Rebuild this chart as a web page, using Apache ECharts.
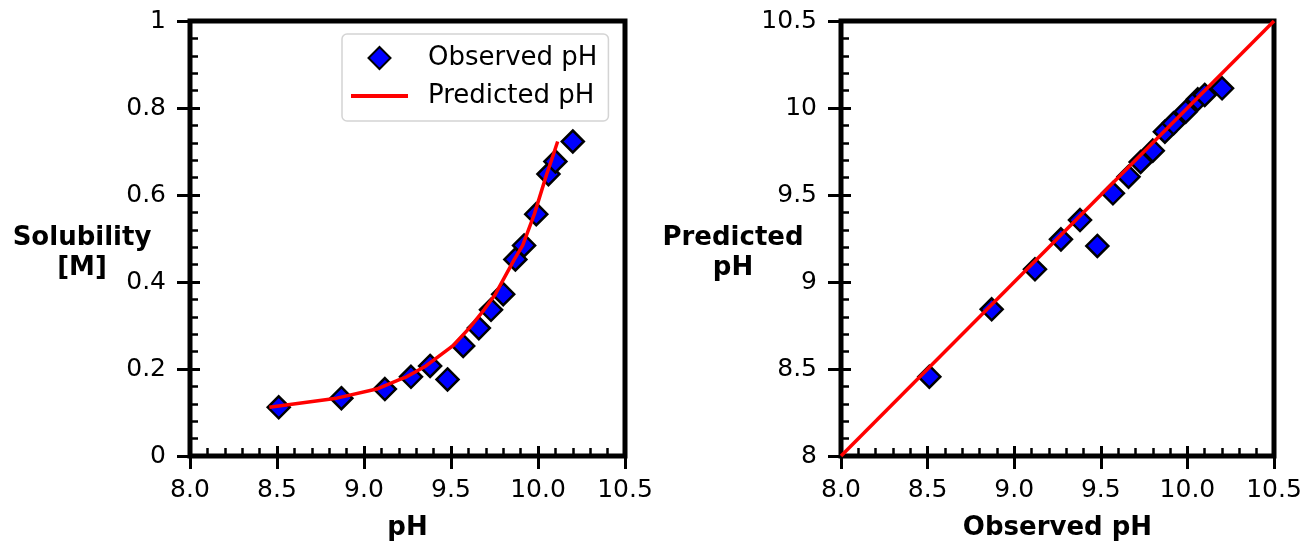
<!DOCTYPE html>
<html>
<head>
<meta charset="utf-8">
<title>Solubility vs pH</title>
<script src="https://cdn.jsdelivr.net/npm/echarts@6/dist/echarts.min.js"></script>
<style>
  html,body{margin:0;padding:0;background:#fff;}
  #main{width:1306px;height:541px;}
</style>
</head>
<body>
<div id="main"></div>
<script>
//观测值 / 预测值 / 溶解度
var obsPH = [8.51, 8.87, 9.12, 9.27, 9.38, 9.48, 9.57, 9.66, 9.73, 9.80, 9.87, 9.92, 9.99, 10.06, 10.10, 10.20];
var predPH = [8.456, 8.843, 9.073, 9.245, 9.356, 9.207, 9.51, 9.605, 9.69, 9.755, 9.864, 9.912, 9.979, 10.05, 10.075, 10.113];
var solubility = [0.112, 0.133, 0.154, 0.182, 0.207, 0.176, 0.253, 0.294, 0.336, 0.372, 0.452, 0.484, 0.556, 0.648, 0.677, 0.723];
var identityLine = [8, 10.5];

var font = 'DejaVu Sans';

//左图散点
var leftScatter = [];
for (var i = 0; i < obsPH.length; i++) {
	leftScatter.push([obsPH[i], solubility[i]]);
}
//左图曲线 (按溶解度排序)
var leftLine = [];
for (var i = 0; i < predPH.length; i++) {
	leftLine.push([predPH[i], solubility[i]]);
}
leftLine.sort(function(a, b){ return a[1] - b[1]; });
//右图散点
var rightScatter = [];
for (var i = 0; i < obsPH.length; i++) {
	rightScatter.push([obsPH[i], predPH[i]]);
}
var rightLine = [[identityLine[0], identityLine[0]], [identityLine[1], identityLine[1]]];

/**
 * 坐标轴: 外侧主刻度+标签 / 内侧主刻度+次刻度
 */
function outerAxis(grid, min, max, interval, fmt, name, isX) {
	var ax = {
		type: 'value', gridIndex: grid, min: min, max: max, interval: interval,
		position: isX ? 'bottom' : 'left',
		splitLine: {show: false},
		axisLine: {show: false},
		axisTick: {show: true, inside: false, length: 13, lineStyle: {color: '#000', width: 3}},
		axisLabel: {show: true, margin: isX ? 22 : 24, fontSize: 25, fontFamily: font, color: '#000', formatter: fmt},
		name: name,
		nameLocation: 'middle',
		nameGap: isX ? 72 : 108,
		nameMoveOverlap: false,
		nameTextStyle: {fontSize: 26, fontFamily: font, fontWeight: 'bold', color: '#000', align: 'center', verticalAlign: 'middle', lineHeight: 30}
	};
	if (!isX) {
		ax.nameRotate = 0;
	}
	return ax;
}
function innerAxis(grid, min, max, interval, isX) {
	return {
		type: 'value', gridIndex: grid, min: min, max: max, interval: interval,
		position: isX ? 'bottom' : 'left',
		splitLine: {show: false},
		axisLine: {show: false},
		axisLabel: {show: false},
		axisTick: {show: true, inside: true, length: 10, lineStyle: {color: '#000', width: 3}},
		minorTick: {show: true, splitNumber: 5, length: 8, lineStyle: {color: '#000', width: 2.5}}
	};
}
function fmt1(v){ return v.toFixed(1); }

var myChart = echarts.init(document.getElementById('main'));
var option = {
	animation: false,
	backgroundColor: '#fff',
	grid: [
		{left: 190, top: 21, width: 435, height: 435, outerBoundsMode: 'none', containLabel: false, show: true, borderColor: '#000', borderWidth: 5, backgroundColor: 'transparent'},
		{left: 841, top: 21, width: 433, height: 435, outerBoundsMode: 'none', containLabel: false, show: true, borderColor: '#000', borderWidth: 5, backgroundColor: 'transparent'}
	],
	legend: {
		left: 342, top: 34,
		orient: 'vertical',
		data: [
			{name: 'Observed pH', icon: 'path://M11,0L22,11L11,22L0,11Z'},
			{name: 'Predicted pH', icon: 'path://M0,0L57,0L57,4L0,4Z'}
		],
		symbolKeepAspect: true,
		itemWidth: 57, itemHeight: 22, itemGap: 12,
		padding: [11, 11, 12, 9],
		borderColor: '#d4d4d4', borderWidth: 1.5, borderRadius: 5,
		backgroundColor: '#fff',
		textStyle: {fontSize: 26, fontFamily: font, color: '#000', padding: [0, 0, 0, 15]}
	},
	xAxis: [
		outerAxis(0, 8, 10.5, 0.5, fmt1, 'pH', true),
		innerAxis(0, 8, 10.5, 0.5, true),
		outerAxis(1, 8, 10.5, 0.5, fmt1, 'Observed pH', true),
		innerAxis(1, 8, 10.5, 0.5, true)
	],
	yAxis: [
		outerAxis(0, 0, 1, 0.2, null, '\nSolubility\n[M]', false),
		innerAxis(0, 0, 1, 0.2, false),
		outerAxis(1, 8, 10.5, 0.5, null, '\nPredicted\npH', false),
		innerAxis(1, 8, 10.5, 0.5, false)
	],
	series: [
		{
			name: 'Observed pH', type: 'scatter', xAxisIndex: 0, yAxisIndex: 0,
			symbol: 'diamond', symbolSize: 22,
			itemStyle: {color: '#0000ff', borderColor: '#000', borderWidth: 2.5, opacity: 1},
			z: 2,
			data: leftScatter
		},
		{
			name: 'Predicted pH', type: 'line', xAxisIndex: 0, yAxisIndex: 0,
			symbol: 'none', showSymbol: false,
			lineStyle: {color: '#ff0000', width: 3.5},
			itemStyle: {color: '#ff0000', borderWidth: 0},
			z: 3,
			data: leftLine
		},
		{
			name: 'obs-pred', type: 'scatter', xAxisIndex: 2, yAxisIndex: 2,
			symbol: 'diamond', symbolSize: 22,
			itemStyle: {color: '#0000ff', borderColor: '#000', borderWidth: 2.5, opacity: 1},
			z: 2,
			data: rightScatter
		},
		{
			name: 'identity', type: 'line', xAxisIndex: 2, yAxisIndex: 2,
			symbol: 'none', showSymbol: false,
			lineStyle: {color: '#ff0000', width: 3.5},
			z: 3,
			data: rightLine
		}
	]
};
myChart.setOption(option);
</script>
</body>
</html>
